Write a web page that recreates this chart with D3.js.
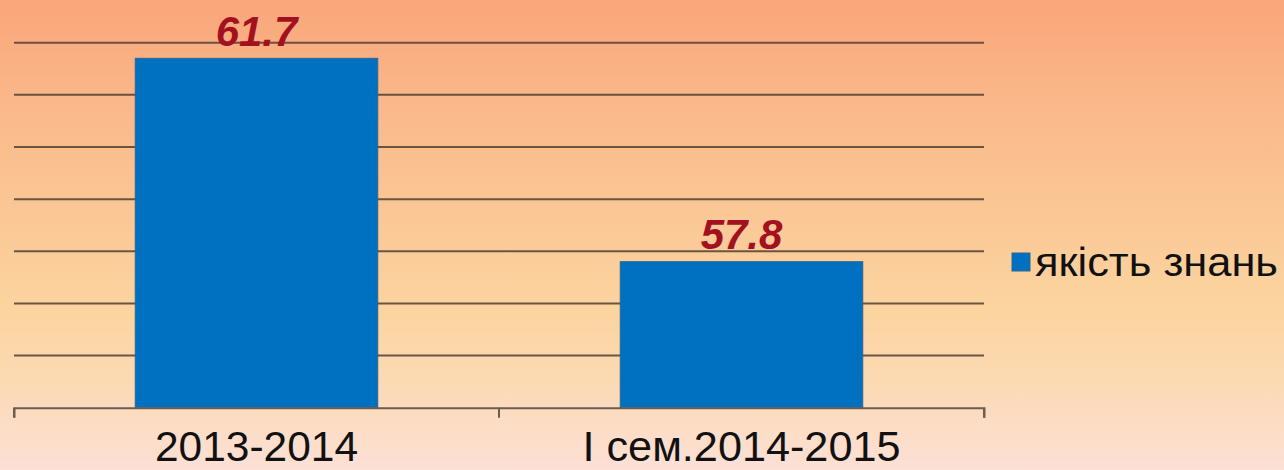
<!DOCTYPE html>
<html>
<head>
<meta charset="utf-8">
<script src="https://cdn.jsdelivr.net/npm/d3@7"></script>
<style>
  html, body { margin: 0; padding: 0; }
  body { width: 1284px; height: 470px; overflow: hidden; }
</style>
</head>
<body>
<svg id="chart" width="1284" height="470"></svg>
<script>
// Knowledge quality by period
const categories = ["2013-2014", "I сем.2014-2015"];
const values = [61.7, 57.8];
const seriesName = "якість знань";
const yTicks = [55, 56, 57, 58, 59, 60, 61, 62];

const svg = d3.select("#chart");
const W = 1284, H = 470;

// Background: warm vertical gradient
const defs = svg.append("defs");
const grad = defs.append("linearGradient")
  .attr("id", "bg").attr("x1", 0).attr("y1", 0).attr("x2", 0).attr("y2", 1);
[
  [0, "#f9a67a"], [0.22, "#fab88a"], [0.45, "#fac795"],
  [0.66, "#fbd49f"], [0.8, "#fbd9b2"], [1, "#fde0d6"]
].forEach(([o, c]) => grad.append("stop").attr("offset", o).attr("stop-color", c));
svg.append("rect").attr("width", W).attr("height", H).attr("fill", "url(#bg)");

const x = d3.scaleBand().domain(categories).range([14, 984]).padding(0);
const y = d3.scaleLinear().domain([55, 62]).range([407.7, 42.7]);

// Horizontal gridlines
svg.append("g")
  .selectAll("line")
  .data(yTicks.slice(1))
  .join("line")
  .attr("x1", 14).attr("x2", 984)
  .attr("y1", d => y(d)).attr("y2", d => y(d))
  .attr("stroke", "#5c4838").attr("stroke-width", 2).attr("opacity", 0.9);

// Bars: half of each category slot, centred
const barW = x.bandwidth() * 0.5;
svg.append("g")
  .selectAll("rect")
  .data(values)
  .join("rect")
  .attr("x", (d, i) => x(categories[i]) + (x.bandwidth() - barW) / 2)
  .attr("y", d => y(d))
  .attr("width", barW)
  .attr("height", d => y(55) - y(d))
  .attr("fill", "#0070c0")
  .attr("stroke", "#2f6591").attr("stroke-width", 1);

// Category axis
const xAxis = d3.axisBottom(x).tickSize(10).tickFormat("");
const gx = svg.append("g").attr("transform", `translate(0,${y(55)})`);
gx.call(xAxis);
gx.select(".domain").attr("stroke", "#6e5c50").attr("stroke-width", 2);
gx.selectAll(".tick").remove();
// Ticks sit at category boundaries
gx.selectAll("line.bound")
  .data([...categories.map(c => x(c)), x.range()[1]])
  .join("line").attr("class", "bound")
  .attr("x1", d => d).attr("x2", d => d)
  .attr("y1", 0).attr("y2", 10)
  .attr("stroke", "#6e5c50").attr("stroke-width", 2);

// Category labels
svg.append("g")
  .selectAll("text")
  .data(categories)
  .join("text")
  .attr("x", d => x(d) + x.bandwidth() / 2)
  .attr("y", 461)
  .attr("text-anchor", "middle")
  .attr("font-family", "Liberation Sans, Arial, sans-serif")
  .attr("font-size", 42)
  .attr("fill", "#111")
  .attr("textLength", (d, i) => i === 0 ? 203 : 318)
  .attr("lengthAdjust", "spacingAndGlyphs")
  .text(d => d);

// Value labels
svg.append("g")
  .selectAll("text")
  .data(values)
  .join("text")
  .attr("x", (d, i) => x(categories[i]) + x.bandwidth() / 2)
  .attr("y", d => y(d) - 12.5)
  .attr("text-anchor", "middle")
  .attr("font-family", "Liberation Sans, Arial, sans-serif")
  .attr("font-weight", "bold")
  .attr("font-style", "italic")
  .attr("font-size", 42)
  .attr("fill", "#a3101f")
  .text(d => d.toFixed(1));

// Legend
const lg = svg.append("g");
lg.append("rect")
  .attr("x", 1012).attr("y", 253).attr("width", 18).attr("height", 18)
  .attr("fill", "#0070c0").attr("stroke", "#2f6591").attr("stroke-width", 1);
lg.append("text")
  .attr("x", 1035).attr("y", 276)
  .attr("font-family", "Liberation Sans, Arial, sans-serif")
  .attr("font-size", 40)
  .attr("fill", "#111")
  .attr("textLength", 243)
  .attr("lengthAdjust", "spacingAndGlyphs")
  .text(seriesName);
</script>
</body>
</html>
